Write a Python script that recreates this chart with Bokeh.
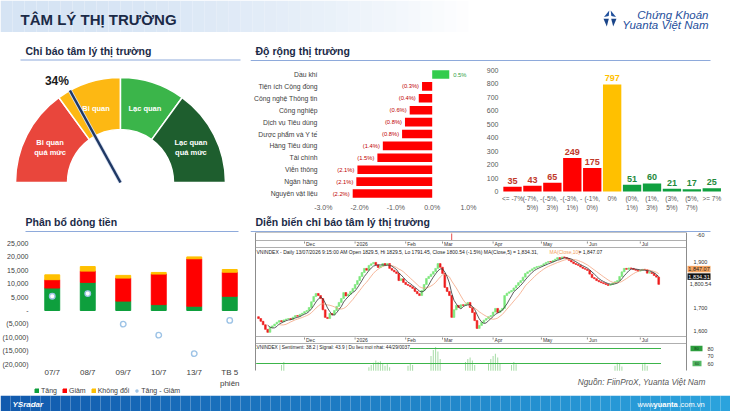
import numpy as np
import pandas as pd
from bokeh.plotting import figure
from bokeh.models import Range1d, Legend, LegendItem, ColumnDataSource, Label
from bokeh.layouts import column, row
from bokeh.embed import file_html
from bokeh.resources import INLINE
from bokeh.core.properties import value

FONT = "Liberation Sans"
NAVY = "#1B2A47"

# ---------------- data ----------------
header_title = "TÂM LÝ THỊ TRƯỜNG"
section_titles = ["Chỉ báo tâm lý thị trường", "Độ rộng thị trường",
                  "Phân bổ dòng tiền", "Diễn biến chỉ báo tâm lý thị trường"]

gauge_bounds = [0, 30, 50, 70, 100]
gauge_zone_labels = ["Bi quan\nquá mức", "Bi quan", "Lạc quan", "Lạc quan\nquá mức"]
gauge_colors = ["#E9463C", "#FDB813", "#3BB54A", "#1E5E2E"]
sentiment_pct = 34

sectors = ["Dầu khí", "Tiện ích Cộng đồng", "Công nghệ Thông tin", "Công nghiệp",
           "Dịch vụ Tiêu dùng", "Dược phẩm và Y tế", "Hàng Tiêu dùng", "Tài chính",
           "Viễn thông", "Ngân hàng", "Nguyên vật liệu"]
sector_chg = [0.47, -0.28, -0.37, -0.62, -0.75, -0.83, -1.36, -1.51, -2.06, -2.09, -2.19]
sector_lbl = ["0.5%", "(0.3%)", "(0.4%)", "(0.6%)", "(0.8%)", "(0.8%)", "(1.4%)",
              "(1.5%)", "(2.1%)", "(2.1%)", "(2.2%)"]
breadth_ticks = [-3, -2, -1, 0, 1]
breadth_tick_lbl = ["-3.0%", "-2.0%", "-1.0%", "0.0%", "1.0%"]

hist_bins = ["<= -7%", "(-7%, -\n5%)", "(-5%, -\n3%)", "(-3%, -\n1%)", "(-1%,\n0%)", "0%",
             "(0%,\n1%)", "(1%,\n3%)", "(3%,\n5%)", "(5%,\n7%)", ">= 7%"]
hist_counts = [35, 43, 65, 249, 175, 797, 51, 60, 21, 17, 25]
hist_group = ["down", "down", "down", "down", "down", "flat", "up", "up", "up", "up", "up"]
hist_ticks = [0, 100, 200, 300, 400, 500, 600, 700, 800, 900]

flow_days = ["07/7", "08/7", "09/7", "10/7", "13/7", "TB 5\nphiên"]
flow_tang = [8400, 10500, 3500, 2200, 1600, 5300]
flow_giam = [3100, 4200, 8600, 11400, 17700, 9000]
flow_kd = [1800, 1700, 1000, 600, 700, 1000]
flow_net = [5300, 6300, -5100, -9200, -16100, -3700]
flow_ticks = [25000, 20000, 15000, 10000, 5000, 0, -5000, -10000, -15000, -20000]
flow_tick_lbl = ["25,000", "20,000", "15,000", "10,000", "5,000", "-", "(5,000)",
                 "(10,000)", "(15,000)", "(20,000)"]

vn_open_first = 1660
vn_close = [
    1652, 1640, 1625, 1605, 1592, 1613, 1620, 1628, 1636, 1643,
    1638, 1646, 1650, 1652, 1648, 1658, 1665, 1662, 1670, 1675,
    1682, 1687, 1700, 1725, 1748, 1761, 1752, 1739, 1690, 1657,
    1652, 1674, 1668, 1687, 1705, 1722, 1739, 1765, 1750, 1758,
    1770, 1783, 1800, 1817, 1835, 1852, 1870, 1862, 1883, 1890,
    1896, 1885, 1874, 1880, 1891, 1885, 1891, 1870, 1862, 1855,
    1848, 1817, 1825, 1809, 1800, 1796, 1790, 1783, 1770, 1760,
    1752, 1774, 1800, 1826, 1835, 1845, 1856, 1870, 1891, 1875,
    1848, 1787, 1770, 1752, 1657, 1690, 1709, 1700, 1712, 1709,
    1715, 1722, 1700, 1678, 1643, 1609, 1622, 1635, 1645, 1652,
    1660, 1665, 1680, 1696, 1678, 1688, 1696, 1752, 1762, 1768,
    1774, 1785, 1796, 1808, 1817, 1832, 1848, 1855, 1861, 1868,
    1874, 1878, 1880, 1883, 1890, 1896, 1900, 1898, 1904, 1910,
    1917, 1912, 1920, 1917, 1913, 1905, 1898, 1891, 1887, 1883,
    1876, 1870, 1866, 1861, 1845, 1830, 1825, 1817, 1812, 1808,
    1804, 1800, 1796, 1800, 1806, 1812, 1817, 1835, 1855, 1870,
    1866, 1872, 1870, 1865, 1862, 1858, 1862, 1866, 1864, 1849.2,
    1852, 1848, 1839, 1832, 1800.54]
month_names = ["Dec", "2026", "Feb", "Mar", "Apr", "May", "Jun", "Jul"]
month_idx = [20, 42, 64, 80, 102, 123, 143, 166]
marker_idx = 84
price_ticks = [1900, 1700, 1600]
price_tick_lbl = ["1,900", "1,700", "1,600"]
sent_levels = [80, 60]
sent_ticks = [80, 70, 60]
sent_idx = [10, 11, 48, 49, 50, 51, 52, 53, 54, 55, 56, 57, 65, 66, 67, 75, 76, 77, 78, 79,
            90, 91, 92, 93, 94, 100, 101, 102, 103, 104, 105, 110, 111, 112,
            155, 156, 157, 158, 167, 168, 169]
sent_val = [58, 62, 55, 58, 61, 64, 62, 63, 60, 57, 59, 55, 57, 60, 58, 70, 78, 82, 76, 66,
            62, 66, 68, 64, 58, 60, 66, 70, 73, 68, 60, 58, 62, 59,
            57, 61, 60, 56, 59, 61, 57]


# ---------------- helpers ----------------
def blank(w, h, xr, yr):
    p = figure(width=w, height=h, x_range=xr, y_range=yr, output_backend="svg",
               toolbar_location=None, min_border=0, x_axis_location=None, y_axis_location=None)
    p.outline_line_color = None
    p.grid.visible = False
    return p


def txt(p, x, y, s, size, color="#000000", align="left", baseline="middle", style="normal", **kw):
    p.text(x=[x], y=[y], text=[s], text_font=value(FONT), text_font_size=size,
           text_color=color, text_align=align, text_baseline=baseline,
           text_font_style=style, **kw)


# ---------------- header ----------------
hd = blank(730, 32, Range1d(0, 730), Range1d(32, 0))
gx = np.arange(0, 480, 12)
hd.quad(left=gx, right=gx + 12, top=0, bottom=32, fill_color="#D6E4F4",
        fill_alpha=np.clip(1 - (gx / 470.0) ** 2, 0, 1), line_color=None)
txt(hd, 20, 19, header_title, "15px", NAVY, style="bold")
hd.patches(xs=[[603.5, 608.8, 608.2], [615.5, 610.2, 610.8], [603, 608.3, 606.3], [616, 610.7, 612.7]],
           ys=[[16.5, 10, 15.5], [16.5, 10, 15.5], [18.2, 18.2, 26], [18.2, 18.2, 26]],
           fill_color=["#1F4F9C", "#1F4F9C", "#1A4589", "#1A4589"], line_color=None)
txt(hd, 708, 14.5, "Chứng Khoán", "11.5px", "#1F4F9C", align="right", style="italic")
txt(hd, 708, 24, "Yuanta Việt Nam", "11.5px", "#1F4F9C", align="right", style="italic")

# ---------------- section titles ----------------
t1 = blank(250, 30, Range1d(0, 250), Range1d(62, 32))
txt(t1, 25, 50.5, section_titles[0], "10.5px", NAVY, style="bold")
t1.segment(x0=[20], y0=[59.5], x1=[240], y1=[59.5], line_color="#8EAADB", line_width=1)
t2 = blank(480, 30, Range1d(250, 730), Range1d(62, 32))
txt(t2, 255, 50.5, section_titles[1], "10.5px", NAVY, style="bold")
t2.segment(x0=[250], y0=[60], x1=[710], y1=[60], line_color="#8EAADB", line_width=1)
t3 = blank(250, 20, Range1d(0, 250), Range1d(232, 212))
txt(t3, 25, 221.5, section_titles[2], "10.5px", NAVY, style="bold")
t3.segment(x0=[25], y0=[231], x1=[238], y1=[231], line_color="#8EAADB", line_width=1)
t4 = blank(480, 20, Range1d(250, 730), Range1d(232, 212))
txt(t4, 255, 221.5, section_titles[3], "10.5px", NAVY, style="bold")
t4.segment(x0=[250], y0=[231], x1=[710], y1=[231], line_color="#8EAADB", line_width=1)

# ---------------- gauge ----------------
g = blank(250, 150, Range1d(0, 250), Range1d(0, 150))
cx, cy, r_in, r_out = 120, 30, 53, 105
ang = [np.pi * (1 - b / 100.0) for b in gauge_bounds]
g.annular_wedge(x=cx, y=cy, inner_radius=r_in, outer_radius=r_out,
                start_angle=ang[1:], end_angle=ang[:-1], direction="anticlock",
                fill_color=gauge_colors, line_color="white", line_width=1.5)
for i, lab in enumerate(gauge_zone_labels):
    mid = np.pi * (1 - (gauge_bounds[i] + gauge_bounds[i + 1]) / 200.0)
    lx, ly = cx + 79 * np.cos(mid), cy + 79 * np.sin(mid) - 1
    lines = lab.split("\n")
    for k, ln in enumerate(lines):
        txt(g, lx, ly + (len(lines) - 1) * 5.3 - k * 10.6, ln, "7.5px", "white",
            align="center", style="bold")
na = np.pi * (1 - sentiment_pct / 100.0)
tip_x, tip_y = cx + r_out * np.cos(na), cy + r_out * np.sin(na)
g.segment(x0=[cx], y0=[cy], x1=[tip_x], y1=[tip_y], line_color="#D9E1F2", line_width=4)
g.segment(x0=[cx], y0=[cy], x1=[tip_x], y1=[tip_y], line_color="#1F3864", line_width=2.5)
txt(g, tip_x - 1, tip_y + 9.5, f"{sentiment_pct}%", "12px", "#1A1A1A", align="right", style="bold")

# ---------------- breadth ----------------
B_ZERO, B_PX, B_ROW0, B_ROWH = 431.7, 36.3, 74.0, 11.9
b = blank(230, 150, Range1d((250 - B_ZERO) / B_PX, (480 - B_ZERO) / B_PX),
          Range1d((212 - B_ROW0) / B_ROWH, (62 - B_ROW0) / B_ROWH))
rows_ = list(range(len(sectors)))
b.hbar(y=rows_, left=0, right=sector_chg, height=0.72,
       fill_color=["#33CC4D" if v >= 0 else "#FF0000" for v in sector_chg], line_color=None)
b.text(x=[(317 - B_ZERO) / B_PX] * len(sectors), y=rows_, text=sectors, text_font=value(FONT),
       text_font_size="6.8px", text_color="#404040", text_align="right", text_baseline="middle")
b.text(x=breadth_ticks, y=[(207 - B_ROW0) / B_ROWH] * len(breadth_ticks), text=breadth_tick_lbl,
       text_font=value(FONT), text_font_size="7px", text_color="#595959", text_align="center",
       text_baseline="middle")
neg = [i for i, v in enumerate(sector_chg) if v < 0]
pos = [i for i, v in enumerate(sector_chg) if v >= 0]
b.text(x=[sector_chg[i] for i in neg], y=neg, text=[sector_lbl[i] for i in neg],
       text_font=value(FONT), text_font_size="5.8px", text_color="#C00000", text_align="right",
       text_baseline="middle", x_offset=-3)
b.text(x=[sector_chg[i] for i in pos], y=pos, text=[sector_lbl[i] for i in pos],
       text_font=value(FONT), text_font_size="5.8px", text_color="#2EA043", text_align="left",
       text_baseline="middle", x_offset=4)

# ---------------- histogram ----------------
H_X0, H_STEP, H_ZERO, H_PX = 512.0, 19.93, 191.0, 0.1344
h = blank(250, 150, Range1d((480 - H_X0) / H_STEP, (730 - H_X0) / H_STEP),
          Range1d((H_ZERO - 212) / H_PX, (H_ZERO - 62) / H_PX))
bar_col = {"down": "#FF0000", "flat": "#FFC000", "up": "#10A040"}
lab_col = {"down": "#C0392B", "flat": "#FFC000", "up": "#1F8A3C"}
kk = list(range(len(hist_bins)))
hsrc = ColumnDataSource(dict(k=kk, n=hist_counts, lbl=[str(v) for v in hist_counts],
                             color=[bar_col[q] for q in hist_group], lcolor=[lab_col[q] for q in hist_group]))
h.vbar(x="k", top="n", width=0.92, fill_color="color", line_color=None, source=hsrc)
h.text(x="k", y="n", text="lbl", text_color="lcolor", text_font=value(FONT), text_font_size="9px",
       text_font_style="bold", text_align="center", text_baseline="bottom", y_offset=-3, source=hsrc)
h.text(x=kk, y=[(H_ZERO - 194) / H_PX] * len(kk), text=hist_bins, text_font=value(FONT),
       text_font_size="6.5px", text_color="#595959", text_align="center", text_baseline="top",
       text_line_height=1.35)
h.text(x=[(498 - H_X0) / H_STEP] * len(hist_ticks), y=hist_ticks, text=[str(t) for t in hist_ticks],
       text_font=value(FONT), text_font_size="7px", text_color="#595959", text_align="right",
       text_baseline="middle")

# ---------------- money flow ----------------
F_X0, F_STEP, F_ZERO, F_PX = 51.75, 35.5, 310.0, 0.00268
f = blank(250, 163, Range1d((0 - F_X0) / F_STEP, (250 - F_X0) / F_STEP),
          Range1d((F_ZERO - 395) / F_PX, (F_ZERO - 232) / F_PX))
fk = list(range(len(flow_days)))
fsrc = ColumnDataSource(dict(k=fk, tang=flow_tang, giam=flow_giam, kd=flow_kd, net=flow_net))
stk = f.vbar_stack(["tang", "giam", "kd"], x="k", width=0.42, color=["#0E9F3D", "#FF0000", "#FFC000"],
                   source=fsrc)
dots = f.scatter(x="k", y="net", marker="circle", size=5.5, fill_color="white", line_color="#9DC3E6",
                 line_width=1.4, source=fsrc)
f.text(x=fk, y=[-21500] * len(flow_days), text=flow_days, text_font=value(FONT),
       text_font_size="8px", text_color="#404040", text_align="center", text_baseline="top")
f.text(x=[(28 - F_X0) / F_STEP] * len(flow_ticks), y=flow_ticks, text=flow_tick_lbl, text_font=value(FONT),
       text_font_size="7px", text_color="#404040", text_align="right", text_baseline="middle")
leg = Legend(items=[LegendItem(label="Tăng", renderers=[stk[0]]),
                    LegendItem(label="Giảm", renderers=[stk[1]]),
                    LegendItem(label="Không đổi", renderers=[stk[2]]),
                    LegendItem(label="Tăng - Giảm", renderers=[dots])],
             orientation="horizontal", location=(34, 0), label_text_font=FONT,
             label_text_font_size="7px", label_text_color="#404040", glyph_width=5, glyph_height=5,
             label_standoff=2, spacing=5, padding=0, margin=0, background_fill_alpha=0,
             border_line_alpha=0, label_height=9, label_width=5)
f.add_layout(leg)

# ---------------- VNINDEX chart ----------------
close = np.array(vn_close, dtype=float)
n = len(close)
ci = np.arange(n)
opn = np.concatenate([[vn_open_first], close[:-1]])
ma5 = pd.Series(close).rolling(5).mean().to_numpy()
ma10 = pd.Series(close).rolling(10).mean().to_numpy()
BAR0, PXB = 258.0, 2.3
c = figure(width=480, height=163, x_range=Range1d(-(BAR0 - 250) / PXB, (730 - BAR0) / PXB),
           y_range=Range1d(1900 - (395 - 261) / 0.23, 1900 + (261 - 232) / 0.23),
           output_backend="svg", toolbar_location=None, min_border=0,
           x_axis_location=None, y_axis_location=None)
c.outline_line_color = None
c.grid.visible = False
c.extra_x_ranges = {"px": Range1d(250, 730)}
c.extra_y_ranges = {"py": Range1d(395, 232), "sent": Range1d(80 - (395 - 348) / 0.75, 80 + (348 - 232) / 0.75)}
PX = dict(x_range_name="px", y_range_name="py")

# panel frame
c.segment(x0=[255, 686, 255], y0=[232, 232, 232], x1=[255, 686, 686], y1=[370, 370, 232],
          line_color="#8C8C8C", line_width=1, **PX)
c.segment(x0=[255] * 4, y0=[240, 247, 336, 343], x1=[686] * 4, y1=[240, 247, 336, 343],
          line_color="#9A9A9A", line_width=0.8, **PX)

# candles
up = close >= opn
ccol = np.where(up, "#7BE87B", "#EE1C1C")
c.vbar(x=ci, bottom=np.minimum(opn, close), top=np.maximum(opn, close), width=0.75,
       fill_color=ccol, line_color=ccol, line_width=0.6)
c.line(x=ci, y=ma10, line_color="#F4A582", line_width=0.8)
c.line(x=ci, y=ma5, line_color="#333333", line_width=0.8)

# month strips
for yy in (240, 336):
    c.segment(x0=month_idx, y0=[yy + 1] * len(month_idx), x1=month_idx, y1=[yy + 3] * len(month_idx),
              line_color="#444444", line_width=0.6, y_range_name="py")
    c.text(x=month_idx, y=[yy + 3.7] * len(month_idx), text=month_names, text_font=value(FONT),
           text_font_size="5px", text_color="#333333", text_align="left", text_baseline="middle",
           x_offset=1.5, y_range_name="py")
c.segment(x0=[marker_idx], y0=[233], x1=[marker_idx], y1=[239.5], line_color="#E02020", line_width=0.8,
          y_range_name="py")

# header text lines
txt(c, 256, 251, "VNINDEX - Daily 13/07/2026 9:15:00 AM Open 1829.5, Hi 1829.5, Lo 1791.45, "
    f"Close {close[-1]:.2f} (-1.5%) MA(Close,5) = {ma5[-1]:,.2f},", "5px", "#222222", **PX)
txt(c, 549, 251, "MA(Close,10)", "5px", "#F4A060", **PX)
txt(c, 578, 251, f" = {ma10[-1]:,.2f}", "5px", "#222222", **PX)

# right price axis
c.text(x=[700] * len(price_ticks), y=price_ticks, text=price_tick_lbl, text_font=value(FONT),
       text_font_size="5.5px", text_color="#333333", text_align="center", text_baseline="middle",
       x_range_name="px")
txt(c, 700, 234.5, "-60", "5.5px", "#333333", align="center", **PX)
txt(c, 700, close[-1], f"{close[-1]:,.2f}", "5.5px", "#333333", align="center", x_range_name="px")
y_black = ma5[-1]
y_orange = max(ma10[-1], ma5[-1] + 7.5 / 0.23)
c.rect(x=[698.5], y=[y_orange], width=23, height=6.5, height_units="screen", fill_color="#F4A460",
       line_color=None, x_range_name="px")
txt(c, 698.5, y_orange, f"{ma10[-1]:,.2f}", "5.5px", "#222222", align="center", x_range_name="px")
c.rect(x=[698.5], y=[y_black], width=23, height=6.5, height_units="screen", fill_color="#111111",
       line_color=None, x_range_name="px")
txt(c, 698.5, y_black, f"{ma5[-1]:,.2f}", "5.5px", "white", align="center", x_range_name="px")

# sentiment panel
c.vbar(x=sent_idx, bottom=50.5, top=sent_val, width=0.45, fill_color="#A8DDA8", line_color=None,
       y_range_name="sent")
c.segment(x0=[-1] * len(sent_levels), y0=sent_levels, x1=[n] * len(sent_levels), y1=sent_levels,
          line_color="#3CB54A", line_width=1, y_range_name="sent")
c.add_layout(Label(x=256, y=347.3, x_range_name="px", y_range_name="py",
                   text="VNINDEX | Sentiment: 38.2 | Signal: 43.9 | Du lieu moi nhat: 44/29/0037",
                   text_font=FONT, text_font_size="4.8px", text_color="#222222", text_baseline="middle",
                   background_fill_color="white"))
c.text(x=[710] * len(sent_ticks), y=sent_ticks, text=[str(v) for v in sent_ticks], text_font=value(FONT),
       text_font_size="5.5px", text_color="#333333", text_align="center", text_baseline="middle",
       x_range_name="px", y_range_name="sent")
c.rect(x=[696, 696.5], y=sent_levels, width=[12, 9], height=5.5, height_units="screen",
       fill_color=["#2E9E3E", "#55B865"], line_color=None, x_range_name="px", y_range_name="sent")
c.text(x=[696, 696.5], y=sent_levels, text=[str(v) for v in sent_levels], text_font=value(FONT),
       text_font_size="4px", text_color="#0B3D12", text_align="center", text_baseline="middle",
       x_range_name="px", y_range_name="sent")

# source
txt(c, 705, 381, "Nguồn: FiinProX, Yuanta Việt Nam", "8.3px", "#595959", align="right", style="italic", **PX)

# ---------------- footer ----------------
ft = blank(730, 16, Range1d(0, 730), Range1d(411, 395))
fx = np.arange(0, 730, 10)
tcol = fx / 730.0
cols = ["#%02X%02X%02X" % (int(0x12 + (0x2C - 0x12) * t), int(0x5A + (0xA5 - 0x5A) * t),
                            int(0xAE + (0xDE - 0xAE) * t)) for t in tcol]
ft.quad(left=fx, right=fx + 10, top=395, bottom=411, fill_color=cols, line_color=None)
txt(ft, 12, 404, "YSradar", "8px", "white", style="bold italic")
txt(ft, 637, 403.5, "www.", "7.5px", "white")
txt(ft, 653, 403.5, "yuanta", "7.5px", "white", style="bold")
txt(ft, 678, 403.5, ".com.vn", "7.5px", "white")

layout = column(
    hd,
    row(t1, t2),
    row(g, b, h),
    row(t3, t4),
    row(f, c),
    ft,
)
open("out.html", "w").write(file_html(layout, INLINE))
